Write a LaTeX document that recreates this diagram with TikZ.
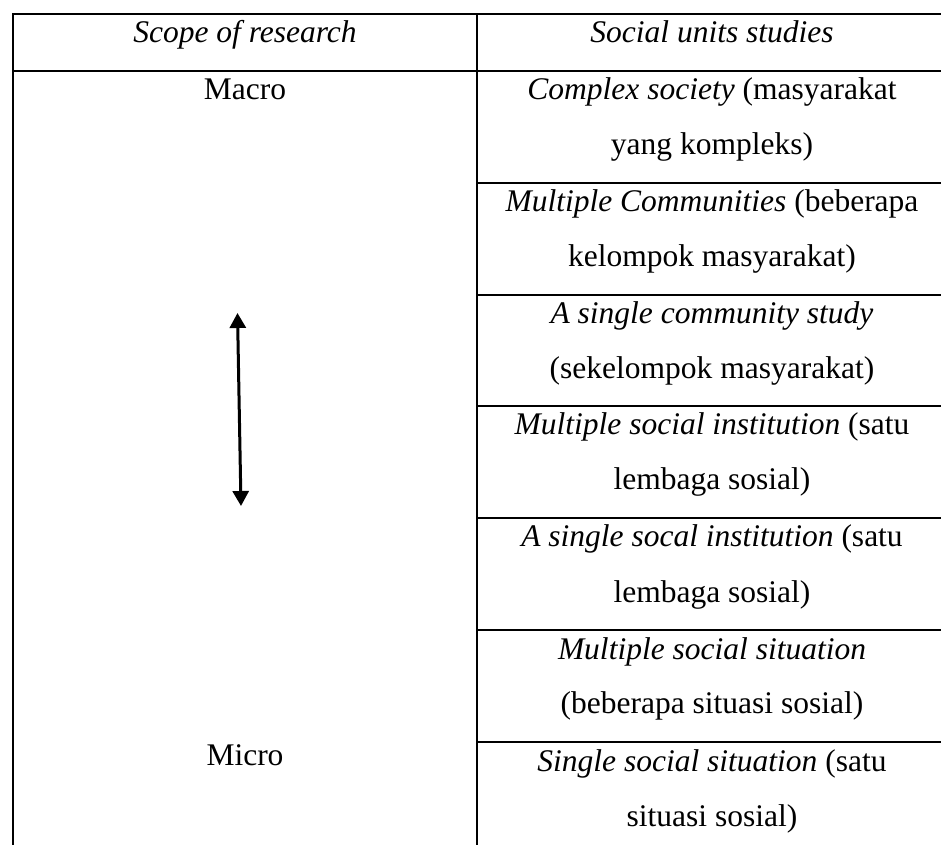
\documentclass[tikz,border=0pt]{standalone}
\usepackage{fontspec}
\setmainfont{Liberation Serif}
\usetikzlibrary{positioning}
\usetikzlibrary{arrows.meta}

\tikzset{
  cell/.style={anchor=base, inner sep=0pt, font=\fontsize{12.6pt}{22pt}\selectfont},
  rule/.style={line width=0.75pt},
}

\begin{document}
\begin{tikzpicture}[x=0.4pt, y=-0.4pt]
  \useasboundingbox (0,0) rectangle (941,845);
  % table rules
  \draw[rule] (13,845) -- (13,14) -- (941,14);
  \draw[rule] (477,14) -- (477,845);
  \draw[rule] (13,71) -- (941,71);
  \foreach \y in {183,295,406,518,630,742}
    \draw[rule] (477,\y) -- (941,\y);

  % header
  \node[cell] (scope) at (245,43) {\textit{Scope of research}};
  \node[cell] (units) at (712,43) {\textit{Social units studies}};

  % left column
  \node[cell] (macro) at (245,100) {Macro};
  \node[cell] (micro) at (245,765) {Micro};
  \coordinate (up) at (237.5,313);
  \coordinate (down) at (241,506);
  \draw[line width=1.2pt, {Triangle[width=6.4pt,length=6pt]}-{Triangle[width=6.4pt,length=6pt]}] (up) -- (down);

  % right column
  \node[cell] (cs1) at (712,100) {\textit{Complex society} (masyarakat};
  \node[cell] (cs2) at (712,155) {yang kompleks)};
  \node[cell] (mc1) at (712,212) {\textit{Multiple Communities} (beberapa};
  \node[cell] (mc2) at (712,267) {kelompok masyarakat)};
  \node[cell] (sc1) at (712,324) {\textit{A single community study}};
  \node[cell] (sc2) at (712,379) {(sekelompok masyarakat)};
  \node[cell] (mi1) at (712,435) {\textit{Multiple social institution} (satu};
  \node[cell] (mi2) at (712,490) {lembaga sosial)};
  \node[cell] (si1) at (712,547) {\textit{A single socal institution} (satu};
  \node[cell] (si2) at (712,602) {lembaga sosial)};
  \node[cell] (ms1) at (712,659) {\textit{Multiple social situation}};
  \node[cell] (ms2) at (712,714) {(beberapa situasi sosial)};
  \node[cell] (ss1) at (712,771) {\textit{Single social situation} (satu};
  \node[cell] (ss2) at (712,826) {situasi sosial)};
\end{tikzpicture}
\end{document}
